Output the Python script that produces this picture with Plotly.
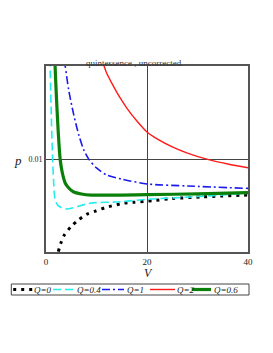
import plotly.graph_objects as go

# Q=0 (black dotted)
V_q0 = [2.44, 2.97, 3.63, 4.95, 6.4, 8.06, 9.8, 11.7, 15.3, 17.3, 21.2, 24.9, 30.8, 34.5, 38.4, 40]
P_q0 = [0.00502, 0.0055, 0.00591, 0.00636, 0.00672, 0.00703, 0.0072, 0.00738, 0.00762, 0.00767,
        0.00776, 0.00787, 0.00796, 0.00801, 0.00805, 0.00806]
# Q=0.4 (cyan dashed)
V_q04 = [0.75, 0.8, 1.0, 1.25, 1.5, 1.8, 2.3, 2.8, 3.5, 4.1, 5.5, 8.7, 14.65, 20, 30, 40]
P_q04 = [0.0154, 0.0150, 0.0129, 0.01048, 0.00887, 0.0078, 0.00753, 0.00742, 0.00734, 0.00731,
         0.00739, 0.00762, 0.0077, 0.00783, 0.00798, 0.00816]
# Q=1 (blue dash-dot)
V_q1 = [3.6, 3.8, 4.5, 5.5, 6.5, 7.5, 8.5, 10, 12, 15, 20, 28, 40]
P_q1 = [0.0153, 0.0150, 0.0137, 0.01237, 0.01129, 0.01048, 0.00998, 0.00952, 0.00914, 0.00892,
        0.00866, 0.00855, 0.00842]
# Q=2 (red solid)
V_q2 = [11.2, 11.5, 12, 13, 14, 15, 16, 18, 20, 22, 25, 28, 32, 36, 40]
P_q2 = [0.01522, 0.0150, 0.01462, 0.01409, 0.0136, 0.01315, 0.01274, 0.01204, 0.01145, 0.01108,
        0.01065, 0.01032, 0.00998, 0.00973, 0.00953]
# Q=0.6 (green thick)
V_q06 = [1.75, 1.8, 2.0, 2.4, 2.8, 3.2, 3.8, 4.5, 5.4, 7, 9, 15, 20, 30, 40]
P_q06 = [0.0153, 0.0150, 0.0137, 0.01156, 0.0100, 0.0093, 0.00871, 0.00844, 0.00824, 0.00812,
         0.00806, 0.00806, 0.00808, 0.00813, 0.00819]

x_ticks = [0, 20, 40]
y_ticks = [0.01]
y_ticktext = ["0.01"]
legend_labels = ["Q=0", "Q=0.4", "Q=1", "Q=2", "Q=0.6"]

serif = "Liberation Serif, Times New Roman, serif"
styles = [
    dict(color="black", width=3, dash="3px,5px"),
    dict(color="#22eeee", width=1.6, dash="8px,4px"),
    dict(color="#1a1aee", width=1.6, dash="8px,3px,2px,3px"),
    dict(color="#ff1a1a", width=1.4, dash="solid"),
    dict(color="#0a800a", width=3.2, dash="solid"),
]
series = [(V_q0, P_q0), (V_q04, P_q04), (V_q1, P_q1), (V_q2, P_q2), (V_q06, P_q06)]

fig = go.Figure()
for (vx, py), st, name in zip(series, styles, legend_labels):
    fig.add_trace(go.Scatter(x=vx, y=py, mode="lines", name=name, showlegend=False,
                             line=dict(color=st["color"], width=st["width"], dash=st["dash"],
                                       shape="spline", smoothing=0.8)))

# page body has an 8px margin: plot area placed at page x 46..248, y 66..252
L, R, T, B = 46.0, 248.0, 66.0, 252.0
def px(X):
    return (X - L) / (R - L)
def py_(Y):
    return (B - Y) / (B - T)

shapes = []
annotations = []
# legend box
shapes.append(dict(type="rect", xref="paper", yref="paper",
                   x0=px(11.3), x1=px(249), y0=py_(295), y1=py_(284),
                   line=dict(color="#444", width=1), fillcolor="white", layer="above"))
sample_x = [(13.2, 32.2), (53, 73), (102, 124), (150, 175), (191.7, 211)]
text_x = [33, 75.5, 125.5, 176, 212.5]
ymid = 289.5
for (a, b), st, tx, lab in zip(sample_x, styles, text_x, legend_labels):
    shapes.append(dict(type="line", xref="paper", yref="paper", x0=px(a), x1=px(b),
                       y0=py_(ymid), y1=py_(ymid), layer="above",
                       line=dict(color=st["color"], width=st["width"], dash=st["dash"])))
    annotations.append(dict(text="<i>" + lab + "</i>", xref="paper", yref="paper", x=px(tx),
                            y=py_(ymid), xanchor="left", yanchor="middle", showarrow=False,
                            borderpad=0, font=dict(family=serif, size=9, color="#222")))

annotations += [
    dict(text="quintessence , uncorrected", xref="paper", yref="paper", x=px(134), y=1.0,
         xanchor="center", yanchor="bottom", showarrow=False, yshift=-3, borderpad=0,
         font=dict(family=serif, size=9, color="#333")),
    dict(text="<i>p</i>", xref="paper", yref="paper", x=px(17.5), y=py_(160.5), xanchor="center",
         yanchor="middle", showarrow=False, borderpad=0,
         font=dict(family=serif, size=13, color="#222")),
    dict(text="<i>V</i>", xref="paper", yref="paper", x=px(148.3), y=py_(272.5), xanchor="center",
         yanchor="middle", showarrow=False, borderpad=0,
         font=dict(family=serif, size=12, color="#222")),
]

fig.update_layout(
    width=265, height=345,
    margin=dict(l=38, r=25, t=58, b=101),
    plot_bgcolor="white", paper_bgcolor="white",
    font=dict(family=serif, size=9, color="#222"),
    showlegend=False,
    xaxis=dict(range=[0, 40], tickvals=x_ticks, showgrid=True, gridcolor="#444", gridwidth=1,
               zeroline=False, showline=True, linecolor="#555", linewidth=2, mirror=True,
               ticks="", tickfont=dict(size=9, family=serif)),
    yaxis=dict(range=[0.005, 0.015], tickvals=y_ticks, ticktext=y_ticktext, showgrid=True,
               gridcolor="#444", gridwidth=1, zeroline=False, showline=True, linecolor="#555",
               linewidth=2, mirror=True, ticks="", tickfont=dict(size=8, family=serif)),
    shapes=shapes,
    annotations=annotations,
)

fig.write_html("out.html")
